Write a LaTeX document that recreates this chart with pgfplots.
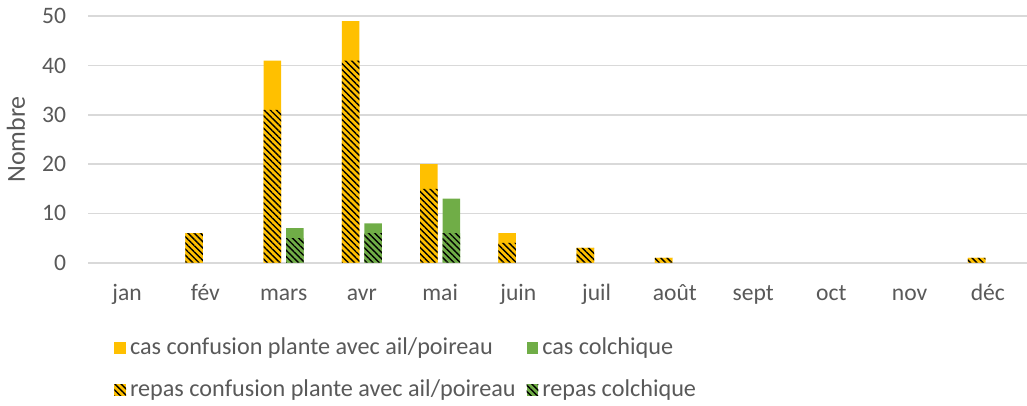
\documentclass[border=0pt]{standalone}
\usepackage{pgfplots}
\pgfplotsset{compat=1.18}
\usetikzlibrary{patterns.meta}
\usepackage{fontspec}
\setmainfont{Carlito}
\definecolor{cyel}{HTML}{FFC000}
\definecolor{cgrn}{HTML}{70AD47}
\definecolor{ctxt}{HTML}{595959}
\definecolor{cgrid}{HTML}{D9D9D9}
\tikzset{hatch/.style={postaction={pattern={Lines[angle=-45,distance=2.2pt,line width=0.7pt]},pattern color=black}}}
\begin{document}
\begin{tikzpicture}
\useasboundingbox (-44pt,-71.65pt) rectangle (469.5pt,131.35pt);
\begin{axis}[
  scale only axis,
  width=469.5pt, height=123.2pt,
  xmin=-0.5, xmax=11.5, ymin=0, ymax=50,
  ytick={0,10,20,30,40,50},
  xtick={0,1,2,3,4,5,6,7,8,9,10,11},
  xticklabels={jan,fév,mars,avr,mai,juin,juil,août,sept,oct,nov,déc},
  axis line style={draw=none},
  major tick length=0pt,
  ymajorgrids, grid style={cgrid, line width=0.9pt},
  font=\fontsize{11.8}{13.8}\selectfont,
  tick label style={text=ctxt},
  /pgf/number format/assume math mode=true,
  xticklabel style={anchor=base, yshift=-19pt},
  yticklabel style={xshift=-7.4pt},
  ylabel={Nombre},
  ylabel style={at={(axis description cs:-0.0767,0.5)}, anchor=center, text=ctxt, font=\fontsize{13}{15}\selectfont},
  legend columns=2,
  legend style={draw=none, fill=none, at={(axis description cs:0,0)}, anchor=north west,
    xshift=10pt, yshift=-33.5pt, text=ctxt, font=\fontsize{12.1}{14}\selectfont,
    /tikz/every even column/.append style={column sep=3.5pt},
    row sep=7pt},
  legend cell align=left,
  every axis plot/.append style={draw=none, bar width=8.75pt},
  legend image code/.code={\path[#1,draw=none] (0pt,-2.9pt) rectangle (5.8pt,2.9pt);},
]
\addplot[ybar, bar shift=-5.6pt, fill=cyel] coordinates {(1,6) (2,41) (3,49) (4,20) (5,6) (6,3) (7,1) (11,1)};
\addlegendentry{cas confusion plante avec ail/poireau}
\addplot[ybar, bar shift=5.6pt, fill=cgrn] coordinates {(2,7) (3,8) (4,13)};
\addlegendentry{cas colchique}
\addplot[ybar, bar shift=-5.6pt, fill=cyel, hatch] coordinates {(1,6) (2,31) (3,41) (4,15) (5,4) (6,3) (7,1) (11,1)};
\addlegendentry{repas confusion plante avec ail/poireau}
\addplot[ybar, bar shift=5.6pt, fill=cgrn, hatch] coordinates {(2,5) (3,6) (4,6)};
\addlegendentry{repas colchique}
\end{axis}
\end{tikzpicture}
\end{document}
